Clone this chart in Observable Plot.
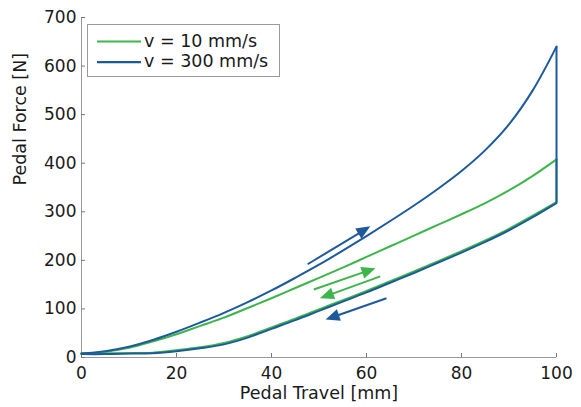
<!DOCTYPE html>
<html><head><meta charset="utf-8">
<script src="https://cdn.jsdelivr.net/npm/d3@7"></script>
<script src="https://cdn.jsdelivr.net/npm/@observablehq/plot@0.6"></script>
<style>
body{margin:0;background:#fff;}
#wrap{position:relative;width:581px;height:407px;}
#legend{position:absolute;left:87px;top:24px;}
</style></head><body>
<div id="wrap"><div id="chart"></div><svg id="legend" width="194" height="54"></svg></div>
<script>
// Pedal travel [mm]
const travel = [0,5,10,15,20,25,30,35,40,45,50,55,60,65,70,75,80,85,90,95,100];
// v = 300 mm/s
const fastLoad   = [8,13,22,36,53,72,92,114,138,164,191,220,250,281,313,347,384,427,480,550,640];
const fastUnload = [7,7,8,9,13,19,27,41,59,77,96,115,134,154,174,195,216,238,262,289,318];
// v = 10 mm/s
const slowLoad   = [8,12,20,33,48,65,82,102,122,143,164,185,207,229,251,273,295,318,344,374,408];
const slowUnload = [9,9,9,10,15,21,30,44,62,80,99,118,137,157,177,198,219,241,265,292,320];

const seriesNames = ["v = 10 mm/s", "v = 300 mm/s"];
const seriesColors = ["#3db54a", "#1d5a9c"];

const xTicks = [0,20,40,60,80,100];
const yTicks = [0,100,200,300,400,500,600,700];

// direction arrows [x1, y1, x2, y2, series index]
const arrows = [
  [47.6,192,60.8,270,1],
  [48.9,140,61.9,184,0],
  [62.9,167,50.2,122,0],
  [64.2,122,51.4,78,1]
];

const toRows = (ys) => travel.map((t,i) => ({x:t, y:ys[i]}));

const base = {
  width:581, height:407,
  marginLeft:81, marginRight:25, marginTop:17, marginBottom:50,
  x:{domain:[0,100]}, y:{domain:[0,700]},
  style:{fontFamily:"DejaVu Sans", fontSize:"17px", color:"#1a1a1a", background:"#fff"}
};

const probe = Plot.plot({...base, marks:[Plot.ruleY([0])]});
const xs = probe.scale("x"), ys = probe.scale("y");
const sx = d3.scaleLinear(xs.domain, xs.range);
const sy = d3.scaleLinear(ys.domain, ys.range);

const arrowRows = arrows.map(([x1,y1,x2,y2,s]) => {
  const px1=sx(x1), py1=sy(y1), px2=sx(x2), py2=sy(y2);
  const th = Math.atan2(py2-py1, px2-px1);
  return {
    x1, y1, x2, y2,
    xe: sx.invert(px2 - 10*Math.cos(th)), ye: sy.invert(py2 - 10*Math.sin(th)),
    rot: th*180/Math.PI + 90,
    color: seriesColors[s]
  };
});

const head = {draw(ctx){ ctx.moveTo(0,0); ctx.lineTo(6,14); ctx.lineTo(-6,14); ctx.closePath(); }};

const lw = 2;
const marks = [
  Plot.ruleX([0], {stroke:"#9a9a9a"}),
  Plot.ruleY([0], {stroke:"#9a9a9a"}),
  Plot.axisX(xTicks, {tickSize:4, dy:-4, tickFormat:()=>"", stroke:"#777", label:null}),
  Plot.axisY(yTicks, {tickSize:4, dx:4, tickFormat:()=>"", stroke:"#777", label:null}),
  Plot.axisX(xTicks, {tickSize:0, tickPadding:9, label:null}),
  Plot.axisY(yTicks, {tickSize:0, tickPadding:5, label:null}),
  Plot.text(["Pedal Travel [mm]"], {text:d=>d, frameAnchor:"bottom", lineAnchor:"top", dy:29, fontSize:17.5}),
  Plot.text(["Pedal Force [N]"], {text:d=>d, frameAnchor:"left", rotate:-90, dx:-61, dy:-2, fontSize:17.5}),
  // slow (green)
  Plot.line(toRows(slowUnload), {x:"x", y:"y", stroke:seriesColors[0], strokeWidth:lw, curve:"catmull-rom"}),
  Plot.line(toRows(slowLoad), {x:"x", y:"y", stroke:seriesColors[0], strokeWidth:lw, curve:"catmull-rom"}),
  Plot.ruleX([{x:100, y1:slowUnload.at(-1), y2:slowLoad.at(-1)}], {x:"x", y1:"y1", y2:"y2", stroke:seriesColors[0], strokeWidth:lw}),
  // fast (blue)
  Plot.line(toRows(fastUnload), {x:"x", y:"y", stroke:seriesColors[1], strokeWidth:lw, curve:"catmull-rom"}),
  Plot.line(toRows(fastLoad), {x:"x", y:"y", stroke:seriesColors[1], strokeWidth:lw, curve:"catmull-rom"}),
  Plot.ruleX([{x:100, y1:fastUnload.at(-1), y2:fastLoad.at(-1)}], {x:"x", y1:"y1", y2:"y2", stroke:seriesColors[1], strokeWidth:lw}),
  // arrows
  Plot.link(arrowRows, {x1:"x1", y1:"y1", x2:"xe", y2:"ye", stroke:"color", strokeWidth:2}),
  Plot.dot(arrowRows, {x:"x2", y:"y2", symbol:head, rotate:"rot", fill:"color", stroke:"none", r:5})
];

const chart = Plot.plot({...base, marks});
document.getElementById("chart").append(chart);

// legend
const lg = d3.select("#legend");
lg.append("rect").attr("x",0.5).attr("y",0.5).attr("width",192).attr("height",52)
  .attr("fill","#fff").attr("stroke","#9a9a9a");
seriesNames.forEach((name,i) => {
  const cy = 17.5 + i*20.6;
  lg.append("line").attr("x1",10).attr("x2",54).attr("y1",cy).attr("y2",cy)
    .attr("stroke",seriesColors[i]).attr("stroke-width",2.2);
  lg.append("text").attr("x",57).attr("y",cy+5).text(name)
    .attr("font-family","DejaVu Sans").attr("font-size","17.5px").attr("fill","#1a1a1a");
});
</script>
</body></html>
